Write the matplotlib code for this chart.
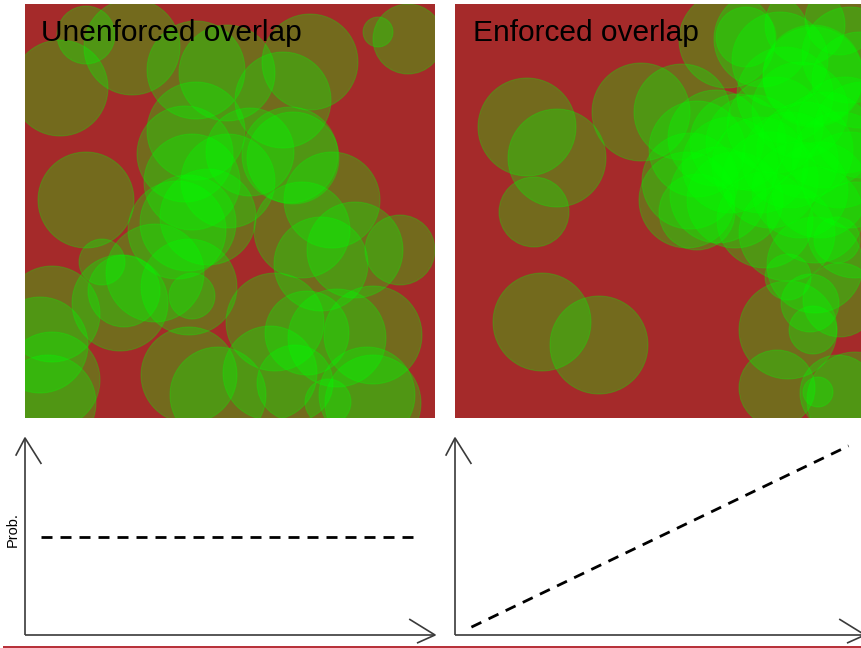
import matplotlib
matplotlib.use("Agg")
import matplotlib.pyplot as plt
from matplotlib.patches import Circle, Rectangle

W, H = 861, 648

# ---------------- data ----------------
titles = ["Unenforced overlap", "Enforced overlap"]
y_label = "Prob."

# circles (panel pixel coordinates): x, y, r
unenf_x = [86, 132, 60, 196, 227, 310, 283, 378, 408, 196, 185, 250, 290, 293, 192, 228,
           86, 177, 188, 208, 302, 332, 355, 400, 321, 102, 120, 124, 155, 189, 192,
           52, 40, 52, 48, 189, 218, 275, 270, 307, 337, 373, 295, 328, 367, 373]
unenf_y = [35, 47, 88, 70, 73, 62, 100, 32, 39, 131, 154, 152, 155, 158, 182, 181,
           200, 230, 223, 217, 230, 200, 250, 250, 264, 262, 303, 291, 273, 287, 296,
           314, 345, 380, 403, 375, 395, 322, 373, 333, 338, 335, 383, 402, 395, 403]
unenf_r = [29, 48, 48, 49, 48, 48, 48, 15, 35, 49, 48, 44, 48, 46, 48, 47,
           48, 49, 48, 48, 48, 48, 48, 35, 47, 23, 48, 36, 49, 48, 23,
           48, 48, 48, 48, 48, 48, 49, 47, 42, 49, 49, 38, 23, 48, 48]

enf_x = [527, 557, 534, 542, 599, 641, 682, 727, 762, 805, 813, 850,
         697, 716, 690, 697, 718, 735, 738, 754, 765, 775, 785, 813, 805, 787,
         815, 840, 837, 788, 788, 813, 777, 838, 818, 845, 850, 855, 770, 820,
         687, 746, 840, 860, 810, 855,
         800, 825, 790, 760, 730, 840, 815, 780, 862, 800]
enf_y = [127, 158, 212, 322, 345, 112, 112, 40, 39, 25, 77, 55,
         149, 138, 181, 212, 195, 200, 142, 143, 220, 125, 95, 75, 150, 233,
         265, 300, 240, 277, 330, 330, 388, 393, 392, 125, 180, 230, 180, 190,
         200, 37, 20, 80, 303, 400,
         110, 140, 160, 165, 165, 160, 215, 60, 130, 190]
enf_r = [49, 49, 35, 49, 49, 49, 48, 48, 48, 40, 50, 48,
         48, 48, 48, 38, 48, 48, 48, 48, 48, 48, 48, 50, 48, 48,
         48, 37, 23, 23, 49, 24, 38, 38, 15, 48, 48, 48, 48, 48,
         48, 30, 35, 48, 29, 48,
         48, 48, 48, 48, 48, 48, 48, 48, 48, 48]

# probability curves (relative units)
prob_x = [0.04, 0.96]
prob_unenforced = [0.5, 0.5]
prob_enforced = [0.04, 0.96]

# ---------------- layout helpers ----------------
def rect(x0, y0, x1, y1):
    return [x0 / W, 1 - y1 / H, (x1 - x0) / W, (y1 - y0) / H]

fig = plt.figure(figsize=(W / 100, H / 100), dpi=100)
fig.patch.set_facecolor("white")

BG = "#A52A2A"
FONT = ["Liberation Sans", "DejaVu Sans"]

panels = [
    (25, 435, unenf_x, unenf_y, unenf_r, titles[0], 41),
    (455, 865, enf_x, enf_y, enf_r, titles[1], 473),
]

for (x0, x1, cx, cy, cr, title, tx) in panels:
    ax = fig.add_axes(rect(x0, 4, x1, 418))
    ax.set_facecolor(BG)
    ax.set_xlim(x0, x1)
    ax.set_ylim(418, 4)
    for xx, yy, rr in zip(cx, cy, cr):
        ax.add_patch(Circle((xx, yy), rr, facecolor=(0, 1, 0, 0.3),
                            edgecolor=(0, 1, 0, 0.25), linewidth=0.8))
    ax.set_xticks([])
    ax.set_yticks([])
    for s in ax.spines.values():
        s.set_visible(False)
    ax.text(tx, 41, title, fontsize=21.5, family=FONT, color="black",
            va="baseline", ha="left", zorder=10)

# bottom panels
curves = [(25, 435, prob_unenforced), (455, 865, prob_enforced)]
AXC = "#3a3a3a"
for (x0, x1, pv) in curves:
    ax = fig.add_axes(rect(x0, 438, x1, 635))
    ax.set_xlim(0, 1)
    ax.set_ylim(0, 1)
    ax.axis("off")
    kw = dict(color=AXC, lw=1.2, clip_on=False, solid_capstyle="butt",
              transform=ax.transAxes)
    # axes lines
    ax.plot([0, 0], [0, 1], **kw)
    ax.plot([0, 1], [0, 0], **kw)
    # open arrow heads
    ax.plot([-0.0227, 0, 0.040], [0.910, 1, 0.868], **kw)
    ax.plot([0.937, 1, 0.956], [0.081, 0, -0.041], **kw)
    ax.plot(prob_x, pv, color="black", lw=2.0, dashes=(3.96, 2.88), clip_on=False)

fig.text(13 / W, 1 - 530 / H, y_label, rotation=90, fontsize=10.5, family=FONT,
         ha="center", va="center")

# thin strip of the next row visible at the bottom
fig.patches.append(Rectangle((3 / W, 0), 1 - 3 / W, 2.5 / H, transform=fig.transFigure,
                             facecolor="#B8323A", edgecolor="none", figure=fig))

fig.savefig("out.png", dpi=100)
